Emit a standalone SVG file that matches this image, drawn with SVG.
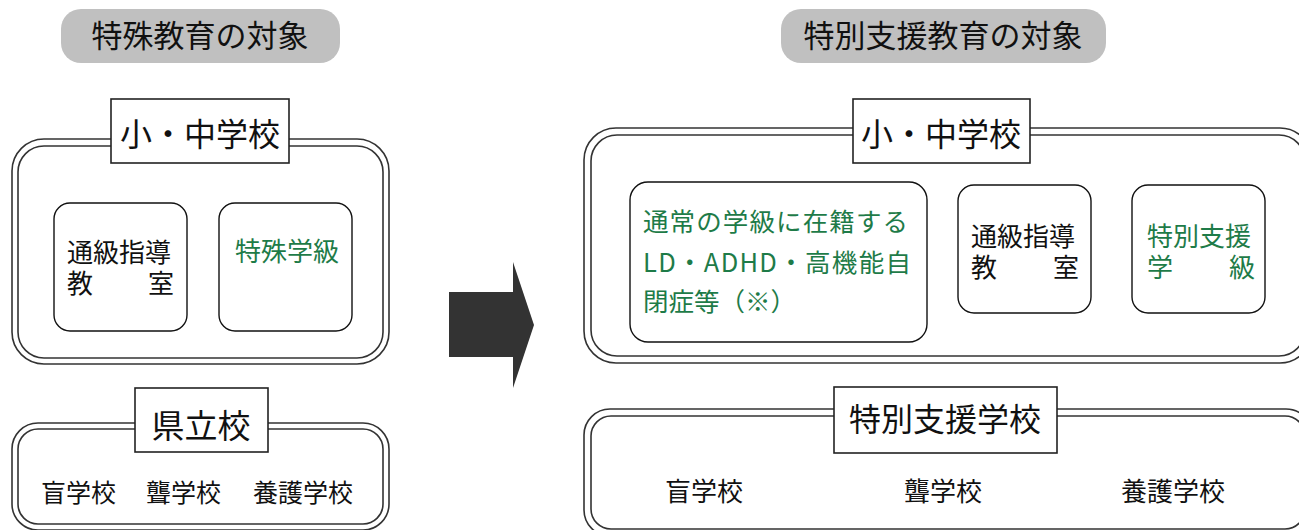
<svg xmlns="http://www.w3.org/2000/svg" width="1299" height="530" viewBox="0 0 1299 530">
<style>
text{font-family:"Noto Sans CJK JP","Noto Sans",sans-serif;fill:#111}
.pill{fill:#c0c0c0}
.pt{font-size:31px;text-anchor:middle}
.dbl{fill:none;stroke:#333;stroke-width:1.6}
.lab{fill:#fff;stroke:#222;stroke-width:1.6}
.lt{font-size:32px;text-anchor:middle}
.in{fill:#fff;stroke:#111;stroke-width:1.4}
.t26{font-size:26px}
.g{fill:#1e7b48}
.gt{font-size:25.5px}
.mid{text-anchor:middle}
.end{text-anchor:end}
</style>
<g id="title-left"><rect class="pill" x="61" y="9" width="279" height="54" rx="20"/><text class="pt" x="200" y="47">特殊教育の対象</text></g>
<g id="title-right"><rect class="pill" x="781" y="9" width="325" height="54" rx="20"/><text class="pt" x="943" y="47">特別支援教育の対象</text></g>

<g id="left-school">
<rect class="dbl" x="12" y="139" width="377" height="225" rx="32"/>
<rect class="dbl" x="18" y="146" width="365" height="212" rx="26"/>
<rect class="lab" x="111" y="99" width="178" height="64"/>
<text class="lt" x="200" y="146">小・中学校</text>
</g>
<g id="left-tsukyu"><rect class="in" x="54" y="203" width="133" height="128" rx="16"/>
<text class="t26" x="67" y="262">通級指導</text><text class="t26" x="67" y="293">教</text><text class="t26 end" x="174" y="293">室</text></g>
<g id="left-tokushu"><rect class="in" x="219" y="203" width="133" height="128" rx="16"/>
<text class="t26 g mid" x="287" y="261">特殊学級</text></g>

<g id="left-prefectural">
<rect class="dbl" x="12" y="423" width="377" height="107" rx="26"/>
<rect class="dbl" x="18" y="429" width="365" height="95" rx="20"/>
<rect class="lab" x="135" y="388" width="133" height="64"/>
<text class="lt" x="201" y="438" style="font-size:33px">県立校</text>
<text x="41" y="502" style="font-size:25px">盲学校</text>
<text x="146" y="502" style="font-size:25px">聾学校</text>
<text x="253" y="502" style="font-size:25px">養護学校</text>
</g>

<g id="connectors"><polygon points="449,292 513,292 513,262 534,325 513,388 513,357 449,357" fill="#333"/></g>

<g id="right-school">
<rect class="dbl" x="584" y="128" width="728" height="235" rx="32"/>
<rect class="dbl" x="591" y="135" width="714" height="221" rx="26"/>
<rect class="lab" x="853" y="99" width="177" height="64"/>
<text class="lt" x="941" y="146">小・中学校</text>
</g>
<g id="right-regular"><rect class="in" x="630" y="182" width="297" height="160" rx="18"/>
<text class="g gt" x="643" y="231" textLength="265" lengthAdjust="spacing">通常の学級に在籍する</text>
<text class="g gt" x="643" y="272" textLength="268" lengthAdjust="spacing">LD・ADHD・高機能自</text>
<text class="g gt" x="643" y="311">閉症等（※）</text></g>
<g id="right-tsukyu"><rect class="in" x="958" y="185" width="133" height="128" rx="16"/>
<text class="t26" x="971" y="246">通級指導</text><text class="t26" x="971" y="277">教</text><text class="t26 end" x="1079" y="277">室</text></g>
<g id="right-tokubetsu"><rect class="in" x="1132" y="185" width="133" height="128" rx="16"/>
<text class="t26 g" x="1147" y="246">特別支援</text><text class="t26 g" x="1147" y="277">学</text><text class="t26 g end" x="1255" y="277">級</text></g>

<g id="right-special">
<rect class="dbl" x="584" y="409" width="728" height="127" rx="26"/>
<rect class="dbl" x="591" y="416" width="714" height="113" rx="20"/>
<rect class="lab" x="834" y="387" width="223" height="66"/>
<text class="lt" x="945" y="431">特別支援学校</text>
<text x="665" y="501" style="font-size:26px">盲学校</text>
<text x="904" y="501" style="font-size:26px">聾学校</text>
<text x="1121" y="501" style="font-size:26px">養護学校</text>
</g>
</svg>
